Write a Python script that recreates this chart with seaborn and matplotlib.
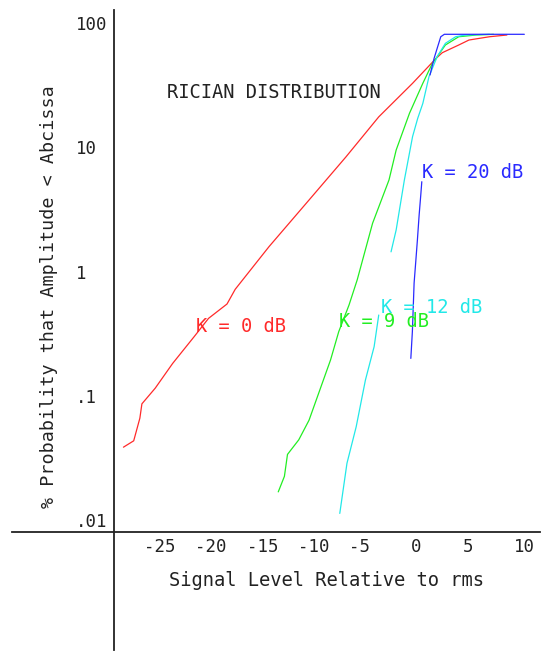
import numpy as np
import pandas as pd
import matplotlib
matplotlib.use("Agg")
import matplotlib.pyplot as plt
from matplotlib.ticker import NullLocator
import seaborn as sns

# values (x in dB, y in %)
red_x = [-29.1, -28.1, -27.5, -27.3, -26.0, -24.3, -22.2, -20.8, -19.0, -18.2, -14.9,
         -11.0, -7.4, -4.2, -0.9, 1.4, 2.0, 3.6, 4.6, 6.6, 8.3]
red_y = [0.048, 0.054, 0.082, 0.107, 0.143, 0.226, 0.371, 0.52, 0.678, 0.89, 1.96,
         4.64, 10.3, 21.6, 40.2, 63.8, 70.8, 81.6, 89.5, 95.1, 98.2]

green_x = [-14.0, -13.4, -13.1, -12.0, -11.0, -8.9, -8.1, -7.1, -6.3, -4.8, -3.2,
           -2.5, -1.2, 0.1, 1.0, 2.3, 3.6, 5.3, 7.0]
green_y = [0.021, 0.028, 0.042, 0.055, 0.079, 0.241, 0.407, 0.665, 1.06, 3.02, 6.72,
           11.7, 23.1, 40.2, 57.4, 81.6, 95.1, 98.2, 99.4]

cyan_x_low = [-8.0, -7.3, -6.4, -5.5, -4.65, -4.2]
cyan_y_low = [0.0141, 0.0356, 0.070, 0.166, 0.308, 0.553]
cyan_x_high = [-3.0, -2.5, -1.7, -0.9, -0.4, 0.1, 0.7, 1.5, 2.3, 3.3, 4.3, 6.6]
cyan_y_high = [1.78, 2.67, 6.72, 15.0, 21.0, 27.7, 45.4, 65.8, 84.2, 95.1, 98.2, 99.5]

blue_x_low = [-1.07, -0.92, -0.75, -0.59, -0.43, -0.26, -0.10, 0.0]
blue_y_low = [0.248, 0.406, 1.0, 1.48, 2.21, 3.51, 5.09, 6.51]
blue_x_high = [0.8, 1.2, 1.5, 1.85, 2.2, 10.0]
blue_y_high = [46.9, 63.8, 76.8, 95.1, 99.5, 99.5]

k_labels = ["K = 0 dB", "K = 9 dB", "K = 12 dB", "K = 20 dB"]
k_label_x = [-22.0, -8.05, -4.0, 0.0]
k_label_y = [0.406, 0.446, 0.579, 6.94]
colors = ["#ff2a2a", "#22ee22", "#22e8e8", "#2a2aff"]

x_ticks = list(range(-40, 11, 5))
x_tick_labels = ["-25", "-20", "-15", "-10", "-5", "0", "5", "10"]
x_label_pos = [-25, -20, -15, -10, -5, 0, 5, 10]
y_ticks = [0.01, 0.1, 1, 10, 100]
y_tick_labels = [".01", ".1", "1", "10", "100"]

sns.set_style("white")
plt.rcParams["font.family"] = ["DejaVu Sans Mono"]

fig = plt.figure(figsize=(5.41, 6.52), dpi=100)
ax = fig.add_axes([11.7 / 541, 2 / 652, 528 / 541, 640 / 652])


def seg_frame(parts):
    rows = []
    for i, (xs, ys) in enumerate(parts):
        for x, y in zip(xs, ys):
            rows.append({"x": x, "y": y, "seg": i})
    return pd.DataFrame(rows)


curves = [
    seg_frame([(red_x, red_y)]),
    seg_frame([(green_x, green_y)]),
    seg_frame([(cyan_x_low, cyan_y_low), (cyan_x_high, cyan_y_high)]),
    seg_frame([(blue_x_low, blue_y_low), (blue_x_high, blue_y_high)]),
]
for df, c in zip(curves, colors):
    sns.lineplot(data=df, x="x", y="y", units="seg", estimator=None, sort=False,
                 color=c, lw=0.9, ax=ax)

ax.set_yscale("log")
ax.set_xlim(-40, 11.5)
ax.set_ylim(10 ** -2.948, 10 ** 2.193)
ax.set_xlabel("")
ax.set_ylabel("")

axis_col = "#222222"
for s in ["top", "right"]:
    ax.spines[s].set_visible(False)
ax.spines["left"].set_position(("data", -30))
ax.spines["bottom"].set_position(("data", 0.01))
for s in ["left", "bottom"]:
    ax.spines[s].set_color(axis_col)
    ax.spines[s].set_linewidth(1.3)

ax.set_xticks(x_ticks)
ax.set_xticklabels([])
ax.set_yticks(y_ticks)
ax.set_yticklabels([])
ax.yaxis.set_minor_locator(NullLocator())
ax.tick_params(axis="both", direction="inout", length=11, width=1.2, color=axis_col)

# tick labels, placed like the original plotter did
for lab, pos in zip(x_tick_labels, x_label_pos):
    cells = 2 if lab.startswith("-") else 1
    ax.text(pos - cells * 1.04, 10 ** -2.045, lab, ha="left", va="top",
            fontsize=12.5, color=axis_col)
for lab, val in zip(y_tick_labels, y_ticks):
    ax.text(-33.7, val * 10 ** (4.5 / 124.5), lab, ha="left", va="baseline",
            fontsize=12.5, color=axis_col)

ax.text(-9.3, 10 ** -2.434, "Signal Level Relative to rms", ha="center",
        va="baseline", fontsize=13.5, color=axis_col)
ax.text(-36.4, 0.773, "% Probability that Amplitude < Abcissa", rotation=90,
        ha="center", va="center", fontsize=13.2, color=axis_col)
ax.text(-24.85, 10 ** (2 - (98 - 34) / 124.5), "RICIAN DISTRIBUTION", ha="left",
        va="baseline", fontsize=13.5, color=axis_col)

for lab, lx, ly, c in zip(k_labels, k_label_x, k_label_y, colors):
    ax.text(lx, ly, lab, ha="left", va="baseline", fontsize=13.5, color=c)

fig.savefig("out.png", dpi=100)
